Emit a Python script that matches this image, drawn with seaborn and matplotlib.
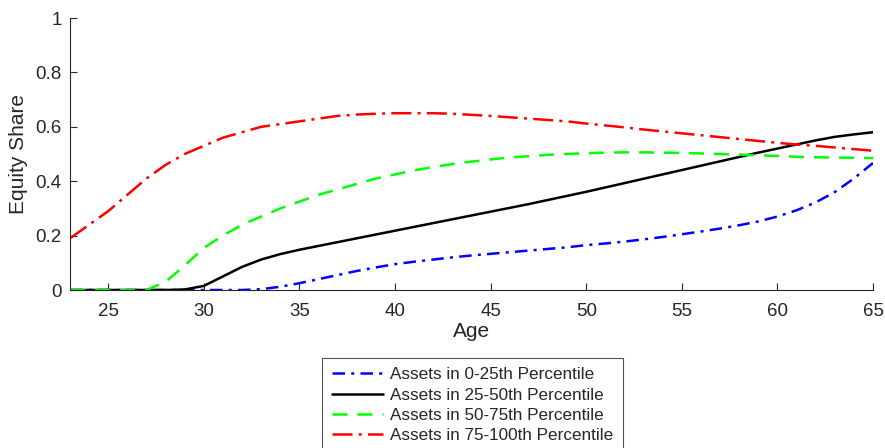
import numpy as np
import pandas as pd
import seaborn as sns
import matplotlib.pyplot as plt

sns.set_style("ticks")
plt.rcParams['font.family'] = ['Liberation Sans', 'DejaVu Sans']

ages = list(range(23, 66))

q1 = [0, 0, 0, 0, 0, 0, 0, 0, 0, 0,
      0.003, 0.012, 0.025, 0.04, 0.055, 0.07, 0.083, 0.095, 0.104, 0.112,
      0.12, 0.127, 0.133, 0.139, 0.145, 0.151, 0.157, 0.165, 0.171, 0.178,
      0.186, 0.195, 0.205, 0.215, 0.226, 0.238, 0.252, 0.27, 0.293, 0.322,
      0.36, 0.41, 0.467]
q2 = [0, 0, 0, 0, 0, 0, 0.002, 0.015, 0.05, 0.085,
      0.112, 0.132, 0.148, 0.162, 0.176, 0.19, 0.204, 0.218, 0.232, 0.246,
      0.26, 0.274, 0.288, 0.302, 0.316, 0.331, 0.346, 0.361, 0.377, 0.393,
      0.409, 0.425, 0.441, 0.457, 0.473, 0.489, 0.505, 0.52, 0.535, 0.55,
      0.563, 0.572, 0.58]
q3 = [0, 0, 0, 0, 0, 0.03, 0.09, 0.155, 0.2, 0.24,
      0.27, 0.3, 0.325, 0.35, 0.37, 0.39, 0.41, 0.425, 0.44, 0.452,
      0.463, 0.472, 0.48, 0.487, 0.492, 0.497, 0.5, 0.503, 0.505, 0.506,
      0.506, 0.505, 0.504, 0.502, 0.5, 0.498, 0.495, 0.493, 0.49, 0.488,
      0.487, 0.486, 0.485]
q4 = [0.19, 0.24, 0.29, 0.35, 0.41, 0.46, 0.5, 0.53, 0.56, 0.58,
      0.6, 0.61, 0.62, 0.63, 0.64, 0.645, 0.648, 0.65, 0.65, 0.65,
      0.648, 0.644, 0.64, 0.635, 0.63, 0.625, 0.62, 0.612, 0.605, 0.598,
      0.59, 0.583, 0.576, 0.569, 0.562, 0.555, 0.548, 0.541, 0.535, 0.53,
      0.524, 0.518, 0.512]

labels = ["Assets in 0-25th Percentile", "Assets in 25-50th Percentile",
          "Assets in 50-75th Percentile", "Assets in 75-100th Percentile"]
series = [q1, q2, q3, q4]
colors = ["#0000ff", "#000000", "#00ff00", "#ff0000"]
dashes = [(5, 2.5, 1.2, 2.5), None, (6, 4), (8, 2.5, 1.2, 2.5)]

fig = plt.figure(figsize=(8.85, 4.48), dpi=100)
ax = fig.add_axes([70 / 885, 1 - 290 / 448, (873 - 70) / 885, 272 / 448])

for vals, lab, col, ds in zip(series, labels, colors, dashes):
    df = pd.DataFrame({"Age": ages, "Share": vals})
    sns.lineplot(data=df, x="Age", y="Share", color=col, lw=1.8,
                 label=lab, ax=ax, legend=False)
    if ds is not None:
        ax.lines[-1].set_dashes(ds)

ax.set_xlim(23, 65)
ax.set_ylim(0, 1)
ax.set_xticks([25, 30, 35, 40, 45, 50, 55, 60, 65])
ax.set_yticks([0, 0.2, 0.4, 0.6, 0.8, 1])
ax.set_yticklabels(["0", "0.2", "0.4", "0.6", "0.8", "1"])
ax.tick_params(direction="in", labelsize=13.5, colors="#262626", length=5)
ax.tick_params(axis="x", pad=9)
ax.tick_params(axis="y", pad=6)
ax.set_xlabel("Age", fontsize=15, color="#262626", labelpad=2)
ax.set_ylabel("Equity Share", fontsize=15, color="#262626", labelpad=5)
sns.despine(ax=ax)
for s in ["left", "bottom"]:
    ax.spines[s].set_color("#262626")

leg = fig.legend(handles=ax.lines, labels=labels, loc="upper center",
                 bbox_to_anchor=(472.5 / 885, 1 - 358 / 448), fontsize=12.3,
                 frameon=True, fancybox=False, edgecolor="#262626",
                 handlelength=3.0, handletextpad=0.4, labelspacing=0.3,
                 borderpad=0.55, borderaxespad=0)
leg.get_frame().set_linewidth(0.8)

fig.savefig("out.png", dpi=100)
